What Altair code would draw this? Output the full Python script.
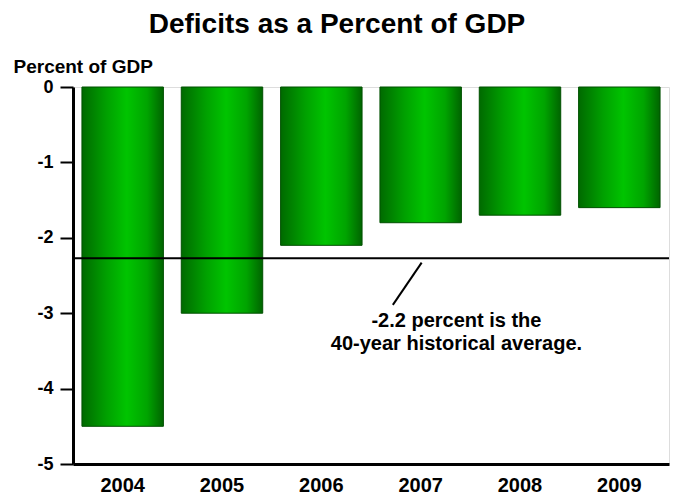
import altair as alt
import pandas as pd

years = ["2004", "2005", "2006", "2007", "2008", "2009"]
deficits = [-4.5, -3.0, -2.1, -1.8, -1.7, -1.6]
average_value = -2.27
note_lines = ["-2.2 percent is the", "40-year historical average."]

bars_df = pd.DataFrame({"year": years, "deficit": deficits})
avg_df = pd.DataFrame({"avg": [average_value]})
pointer_df = pd.DataFrame({"x": [3.51], "x2": [3.22], "y": [-2.33], "y2": [-2.89]})
note_df = pd.DataFrame({"x": [3.86, 3.86], "y": [-3.18, -3.49], "text": note_lines})

FONT = "Liberation Sans"

green = alt.Gradient(
    gradient="linear",
    x1=0, x2=1, y1=0, y2=0,
    stops=[
        alt.GradientStop(color="#006a00", offset=0),
        alt.GradientStop(color="#00a000", offset=0.3),
        alt.GradientStop(color="#00c400", offset=0.55),
        alt.GradientStop(color="#00a400", offset=0.8),
        alt.GradientStop(color="#006400", offset=1),
    ],
)

yscale = alt.Scale(domain=[-5, 0], nice=False, zero=False)

bars = alt.Chart(bars_df).mark_bar(
    fill=green, stroke="#005000", strokeWidth=1
).encode(
    x=alt.X("year:N", sort=years,
            scale=alt.Scale(paddingInner=0.18, paddingOuter=0.09),
            axis=alt.Axis(title=None, labelAngle=0, ticks=False, domain=True,
                          domainColor="black", domainWidth=3,
                          labelFont=FONT, labelFontSize=20, labelFontWeight="bold",
                          labelColor="black", labelPadding=11)),
    y=alt.Y("deficit:Q", scale=yscale,
            axis=alt.Axis(title="Percent of GDP", values=[0, -1, -2, -3, -4, -5],
                          labelExpr="datum.value + ''", grid=False,
                          domainColor="black", domainWidth=3,
                          tickColor="black", tickWidth=2, tickSize=13,
                          labelFont=FONT, labelFontSize=18, labelFontWeight="bold",
                          labelColor="black", labelPadding=7,
                          titleFont=FONT, titleFontSize=19, titleFontWeight="bold",
                          titleColor="black", titleAngle=0, titleAlign="left",
                          titleBaseline="alphabetic", titleX=-60, titleY=-15)),
)

avg_rule = alt.Chart(avg_df).mark_rule(color="black", strokeWidth=2).encode(
    y=alt.Y("avg:Q", scale=yscale)
)

xq = alt.Scale(domain=[0, 6], nice=False, zero=False)

pointer = alt.Chart(pointer_df).mark_rule(color="black", strokeWidth=2).encode(
    x=alt.X("x:Q", scale=xq, axis=None),
    x2="x2:Q",
    y=alt.Y("y:Q", scale=yscale),
    y2="y2:Q",
)

note = alt.Chart(note_df).mark_text(
    font=FONT, fontSize=20, fontWeight="bold", color="black", align="center",
    baseline="alphabetic"
).encode(
    x=alt.X("x:Q", scale=xq, axis=None),
    y=alt.Y("y:Q", scale=yscale),
    text="text:N",
)

chart = alt.layer(bars, avg_rule, pointer, note).resolve_scale(
    x="independent"
).properties(
    width=596,
    height=377,
    title=alt.TitleParams("Deficits as a Percent of GDP", font=FONT, fontSize=28,
                          fontWeight="bold", color="black", anchor="middle",
                          dx=-34, offset=18),
    autosize=alt.AutoSizeParams(type="none"),
    padding={"left": 73, "top": 87, "right": 4, "bottom": 33},
).configure_view(
    stroke="black", strokeWidth=2.5
).configure(background="white")

chart.save("out.html", embed_options={"renderer": "svg", "actions": False})
